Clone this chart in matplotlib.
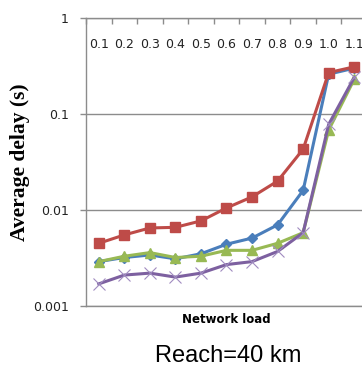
import matplotlib.pyplot as plt
import numpy as np
from matplotlib.ticker import FixedLocator

# data
loads = ['0.1', '0.2', '0.3', '0.4', '0.5', '0.6', '0.7', '0.8', '0.9', '1.0', '1.1']
blue_delay = [0.0029, 0.0032, 0.0034, 0.0031, 0.0035, 0.0044, 0.0051, 0.0070, 0.016, 0.26, 0.30]
red_delay = [0.0045, 0.0055, 0.0065, 0.0066, 0.0077, 0.0105, 0.0137, 0.020, 0.043, 0.27, 0.31]
green_delay = [0.0029, 0.0033, 0.0036, 0.0032, 0.0033, 0.0038, 0.0038, 0.0045, 0.0058, 0.068, 0.23]
purple_delay = [0.0017, 0.0021, 0.0022, 0.0020, 0.0022, 0.0027, 0.0029, 0.0037, 0.0058, 0.078, 0.24]

yticks = [0.001, 0.01, 0.1, 1]
ytick_labels = ['0.001', '0.01', '0.1', '1']

grey = '#8c8c8c'
x = np.arange(len(loads))

fig = plt.figure(figsize=(3.62, 3.69), dpi=100)
ax = fig.add_axes([86 / 362, 63 / 369, 281 / 362, 288 / 369])

ax.plot(x, blue_delay, color='#4a7ebb', lw=2.2, marker='D', ms=5.5, zorder=3)
ax.plot(x, red_delay, color='#be4b48', lw=2.2, marker='s', ms=7.5, zorder=4)
ax.plot(x, green_delay, color='#98b954', lw=2.2, marker='^', ms=7.5, zorder=5)
ax.plot(x, purple_delay, color='#7d60a0', lw=2.2, marker='x', ms=8, mew=0.8,
        mec='#a08cc0', zorder=6)

ax.set_yscale('log')
ax.set_ylim(0.001, 1)
ax.set_xlim(-0.5, len(loads) - 0.5)
ax.set_yticks(yticks)
ax.set_yticklabels(ytick_labels)
ax.yaxis.set_minor_locator(FixedLocator([]))
ax.tick_params(axis='y', which='major', direction='out', length=4, width=1,
               color=grey, pad=8.5, labelsize=9, labelcolor='#222222')
ax.grid(axis='y', color=grey, lw=1)

# category labels sit just under the top edge
ax.xaxis.tick_top()
ax.set_xticks(x)
ax.set_xticklabels(loads)
ax.set_xticks(np.arange(len(loads) + 1) - 0.5, minor=True)
ax.tick_params(axis='x', which='major', length=0, pad=-24, labelsize=9,
               labelcolor='#222222')
ax.tick_params(axis='x', which='minor', direction='in', length=4, width=1,
               color=grey)

for side in ['left', 'bottom', 'top']:
    ax.spines[side].set_color(grey)
    ax.spines[side].set_linewidth(1)
ax.spines['right'].set_visible(False)

ax.xaxis.set_label_position('bottom')
ax.set_xlabel('Network load', fontsize=8.5, fontweight='bold', labelpad=5)
ax.set_ylabel('Average delay (s)', family='Liberation Serif', fontsize=15.5,
              fontweight='bold', labelpad=2)

fig.text(228 / 362, 1 - 356 / 369, 'Reach=40 km', family='Liberation Sans',
         fontsize=17, ha='center', va='center')

fig.savefig('out.png', dpi=100)
